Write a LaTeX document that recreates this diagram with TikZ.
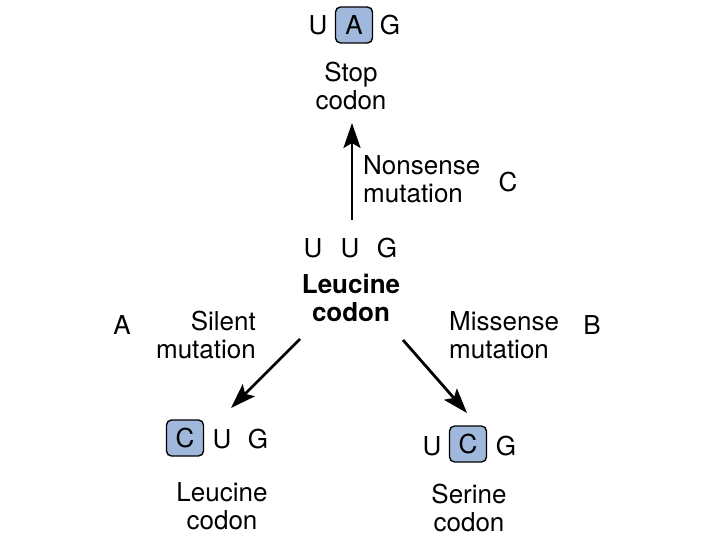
\documentclass[tikz,border=0pt]{standalone}
\usepackage{fontspec}
\setmainfont{TeX Gyre Heros}
\usetikzlibrary{arrows.meta}
\definecolor{basefill}{RGB}{160,184,220}
\tikzset{
  letter/.style={inner sep=0pt, anchor=base},
  basebox/.style={draw=black, line width=1.4pt, fill=basefill, rounded corners=5pt, inner sep=0pt, minimum width=37pt, minimum height=36pt},
  caption/.style={inner sep=0pt, align=center, anchor=base},
  mutarrow/.style={line width=2.8pt, -{Stealth[length=25pt, width=17pt, inset=5pt]}}
}

\begin{document}
\begin{tikzpicture}[x=1pt, y=-1pt, font=\fontsize{26}{28}\selectfont]
			%%%%% START %%%%%
			\useasboundingbox (0, 0) rectangle (720, 540);
			
			% stop codon
			\node[letter] (stopU) at (318, 35) {U};
			\node[basebox] (stopA) at (354, 25) {A};
			\node[letter] (stopG) at (390, 35) {G};
			\node[caption] (stopname) at (351, 110) {Stop\\codon};
			
			% leucine codon in the middle
			\node[letter] (midU1) at (313, 258) {U};
			\node[letter] (midU2) at (350, 258) {U};
			\node[letter] (midG) at (387, 258) {G};
			\node[caption, font=\fontsize{26}{28}\selectfont\bfseries] (midname) at (351, 321) {Leucine\\codon};
			
			% silent mutation
			\node[basebox] (silentC) at (185, 438) {C};
			\node[letter] (silentU) at (222, 448) {U};
			\node[letter] (silentG) at (258, 448) {G};
			\node[caption] (silentname) at (222, 529) {Leucine\\codon};
			
			% missense mutation
			\node[letter] (misU) at (432, 455) {U};
			\node[basebox] (misC) at (468, 444) {C};
			\node[letter] (misG) at (506, 455) {G};
			\node[caption] (misname) at (469, 531) {Serine\\codon};
			
			% arrows
			\coordinate (nonsenseFrom) at (352, 220);
			\coordinate (nonsenseTo) at (352, 123);
			\draw[mutarrow] (nonsenseFrom) -- (nonsenseTo);
			\coordinate (silentFrom) at (300, 339);
			\coordinate (silentTo) at (231, 408);
			\draw[mutarrow] (silentFrom) -- (silentTo);
			\coordinate (misFrom) at (403, 340);
			\coordinate (misTo) at (467, 413);
			\draw[mutarrow] (misFrom) -- (misTo);
			
			% mutation labels
			\node[inner sep=0pt, align=left, anchor=base west] (nonsenselabel) at (363, 203) {Nonsense\\mutation};
			\node[inner sep=0pt, align=right, anchor=base east] (silentlabel) at (256, 358) {Silent\\mutation};
			\node[inner sep=0pt, align=left, anchor=base west] (mislabel) at (449, 358) {Missense\\mutation};
			
			\node[letter] (tagA) at (122, 334) {A};
			\node[letter] (tagB) at (592, 334) {B};
			\node[letter] (tagC) at (508, 192) {C};
			
			%%%%% END %%%%%
		\end{tikzpicture}
\end{document}
